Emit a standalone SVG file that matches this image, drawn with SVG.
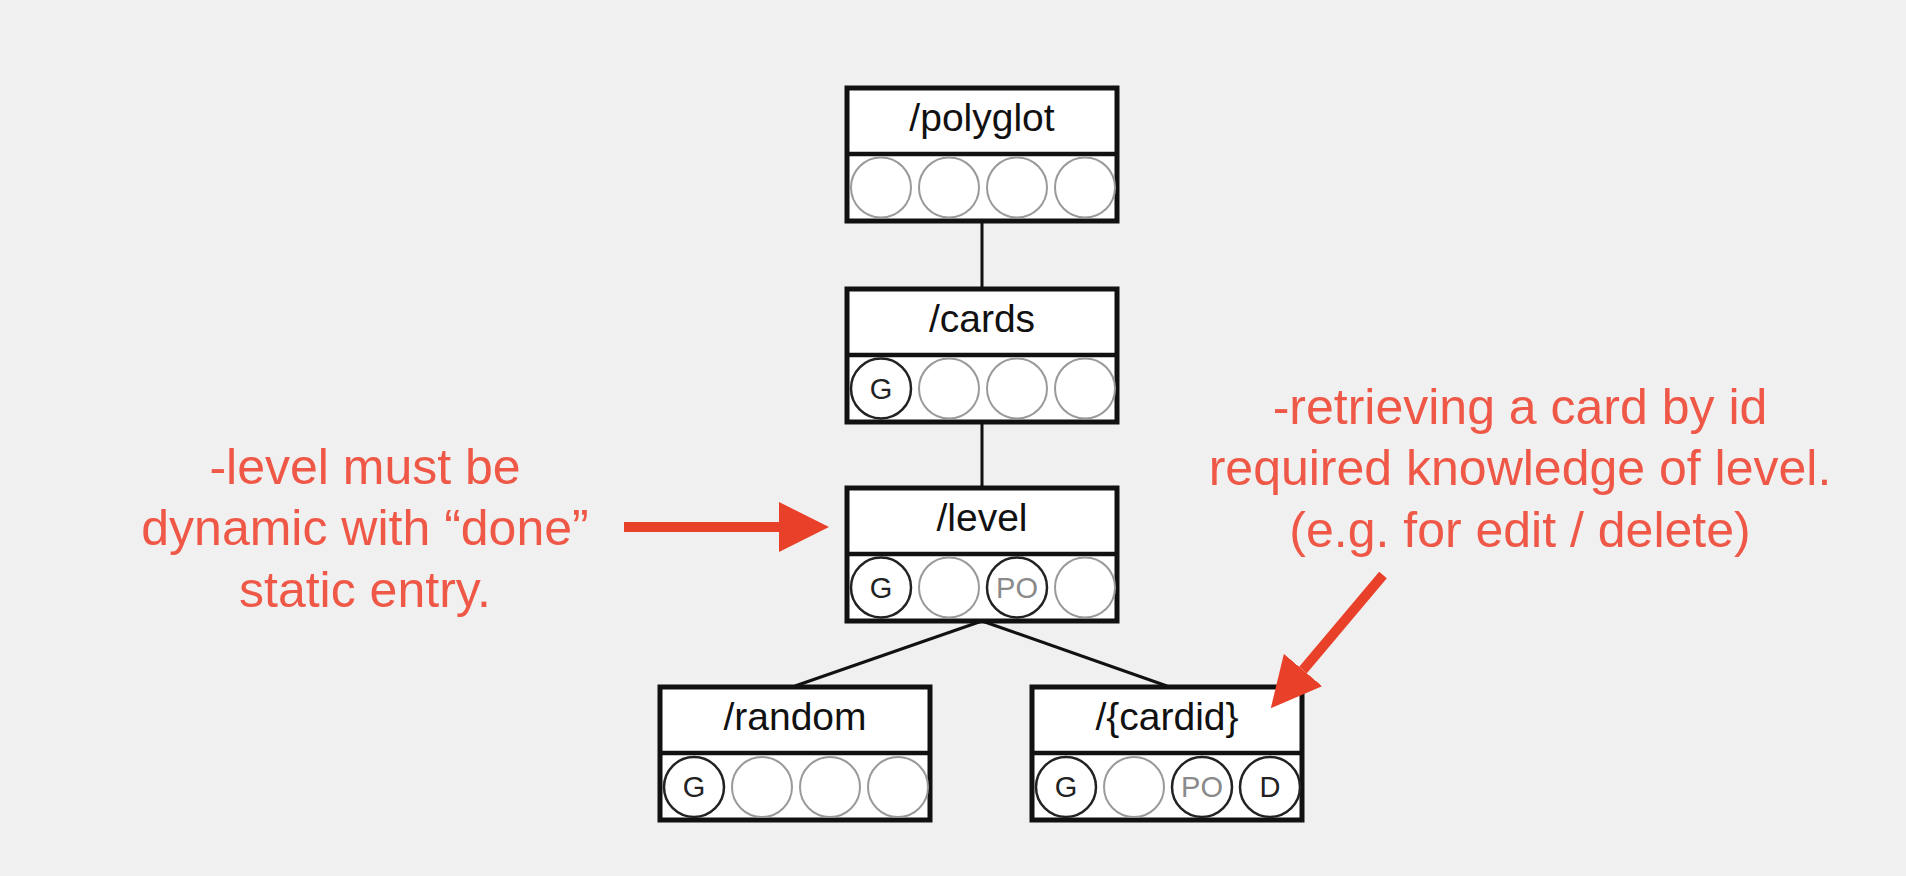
<svg xmlns="http://www.w3.org/2000/svg" width="1906" height="876" viewBox="0 0 1906 876">
<defs>
<style>
.box{fill:#ffffff;stroke:#111111;stroke-width:5}
.div{stroke:#111111;stroke-width:4.5}
.title{font-family:"Liberation Sans",Arial,sans-serif;font-size:39px;fill:#111111;text-anchor:middle}
.c0{fill:#ffffff;stroke:#9a9a9a;stroke-width:2}
.c1{fill:#ffffff;stroke:#222222;stroke-width:2.5}
.ml{font-family:"Liberation Sans",Arial,sans-serif;font-size:29px;fill:#222222;text-anchor:middle}
.mg{font-family:"Liberation Sans",Arial,sans-serif;font-size:29px;fill:#8a8a8a;text-anchor:middle}
.edge{stroke:#111111;stroke-width:3;fill:none}
.note{font-family:"Liberation Sans",Arial,sans-serif;font-size:50px;fill:#ef5747;text-anchor:middle}
.arrow{stroke:#e9402a;stroke-width:10;fill:none}
</style>
<marker id="head" markerUnits="userSpaceOnUse" markerWidth="50" markerHeight="50" refX="0" refY="25" orient="auto" viewBox="0 0 50 50">
<path d="M0,0 L50,25 L0,50 z" fill="#e9402a"/>
</marker>
</defs>
<rect width="1906" height="876" fill="#f0f0f0"/>

<g id="connectors">
<line class="edge" x1="982" y1="221" x2="982" y2="288"/>
<line class="edge" x1="982" y1="422" x2="982" y2="487"/>
<line class="edge" x1="982" y1="621" x2="795" y2="686"/>
<line class="edge" x1="982" y1="621" x2="1167" y2="686"/>
</g>

<g id="polyglot">
<rect class="box" x="847" y="88" width="270" height="133"/>
<line class="div" x1="847" y1="154" x2="1117" y2="154"/>
<text class="title" x="982" y="131">/polyglot</text>
<circle class="c0" cx="881" cy="187.5" r="30"/>
<circle class="c0" cx="949" cy="187.5" r="30"/>
<circle class="c0" cx="1017" cy="187.5" r="30"/>
<circle class="c0" cx="1085" cy="187.5" r="30"/>
</g>

<g id="cards">
<rect class="box" x="847" y="289" width="270" height="133"/>
<line class="div" x1="847" y1="355" x2="1117" y2="355"/>
<text class="title" x="982" y="332">/cards</text>
<circle class="c1" cx="881" cy="388.5" r="30"/>
<text class="ml" x="881" y="398.5">G</text>
<circle class="c0" cx="949" cy="388.5" r="30"/>
<circle class="c0" cx="1017" cy="388.5" r="30"/>
<circle class="c0" cx="1085" cy="388.5" r="30"/>
</g>

<g id="level">
<rect class="box" x="847" y="488" width="270" height="133"/>
<line class="div" x1="847" y1="554" x2="1117" y2="554"/>
<text class="title" x="982" y="531">/level</text>
<circle class="c1" cx="881" cy="587.5" r="30"/>
<text class="ml" x="881" y="597.5">G</text>
<circle class="c0" cx="949" cy="587.5" r="30"/>
<circle class="c1" cx="1017" cy="587.5" r="30"/>
<text class="mg" x="1017" y="597.5">PO</text>
<circle class="c0" cx="1085" cy="587.5" r="30"/>
</g>

<g id="random">
<rect class="box" x="660" y="687" width="270" height="133"/>
<line class="div" x1="660" y1="753" x2="930" y2="753"/>
<text class="title" x="795" y="730">/random</text>
<circle class="c1" cx="694" cy="787" r="30"/>
<text class="ml" x="694" y="797">G</text>
<circle class="c0" cx="762" cy="787" r="30"/>
<circle class="c0" cx="830" cy="787" r="30"/>
<circle class="c0" cx="898" cy="787" r="30"/>
</g>

<g id="cardid">
<rect class="box" x="1032" y="687" width="270" height="133"/>
<line class="div" x1="1032" y1="753" x2="1302" y2="753"/>
<text class="title" x="1167" y="730">/{cardid}</text>
<circle class="c1" cx="1066" cy="787" r="30"/>
<text class="ml" x="1066" y="797">G</text>
<circle class="c0" cx="1134" cy="787" r="30"/>
<circle class="c1" cx="1202" cy="787" r="30"/>
<text class="mg" x="1202" y="797">PO</text>
<circle class="c1" cx="1270" cy="787" r="30"/>
<text class="ml" x="1270" y="797">D</text>
</g>

<g id="note-level">
<text class="note" x="365" y="484">-level must be</text>
<text class="note" x="365" y="545">dynamic with “done”</text>
<text class="note" x="365" y="607">static entry.</text>
<line class="arrow" x1="624" y1="527" x2="779" y2="527" marker-end="url(#head)"/>
</g>

<g id="note-cardid">
<text class="note" x="1520" y="424">-retrieving a card by id</text>
<text class="note" x="1520" y="485">required knowledge of level.</text>
<text class="note" x="1520" y="547">(e.g. for edit / delete)</text>
<line class="arrow" x1="1383" y1="575" x2="1303" y2="670" marker-end="url(#head)"/>
</g>
</svg>
